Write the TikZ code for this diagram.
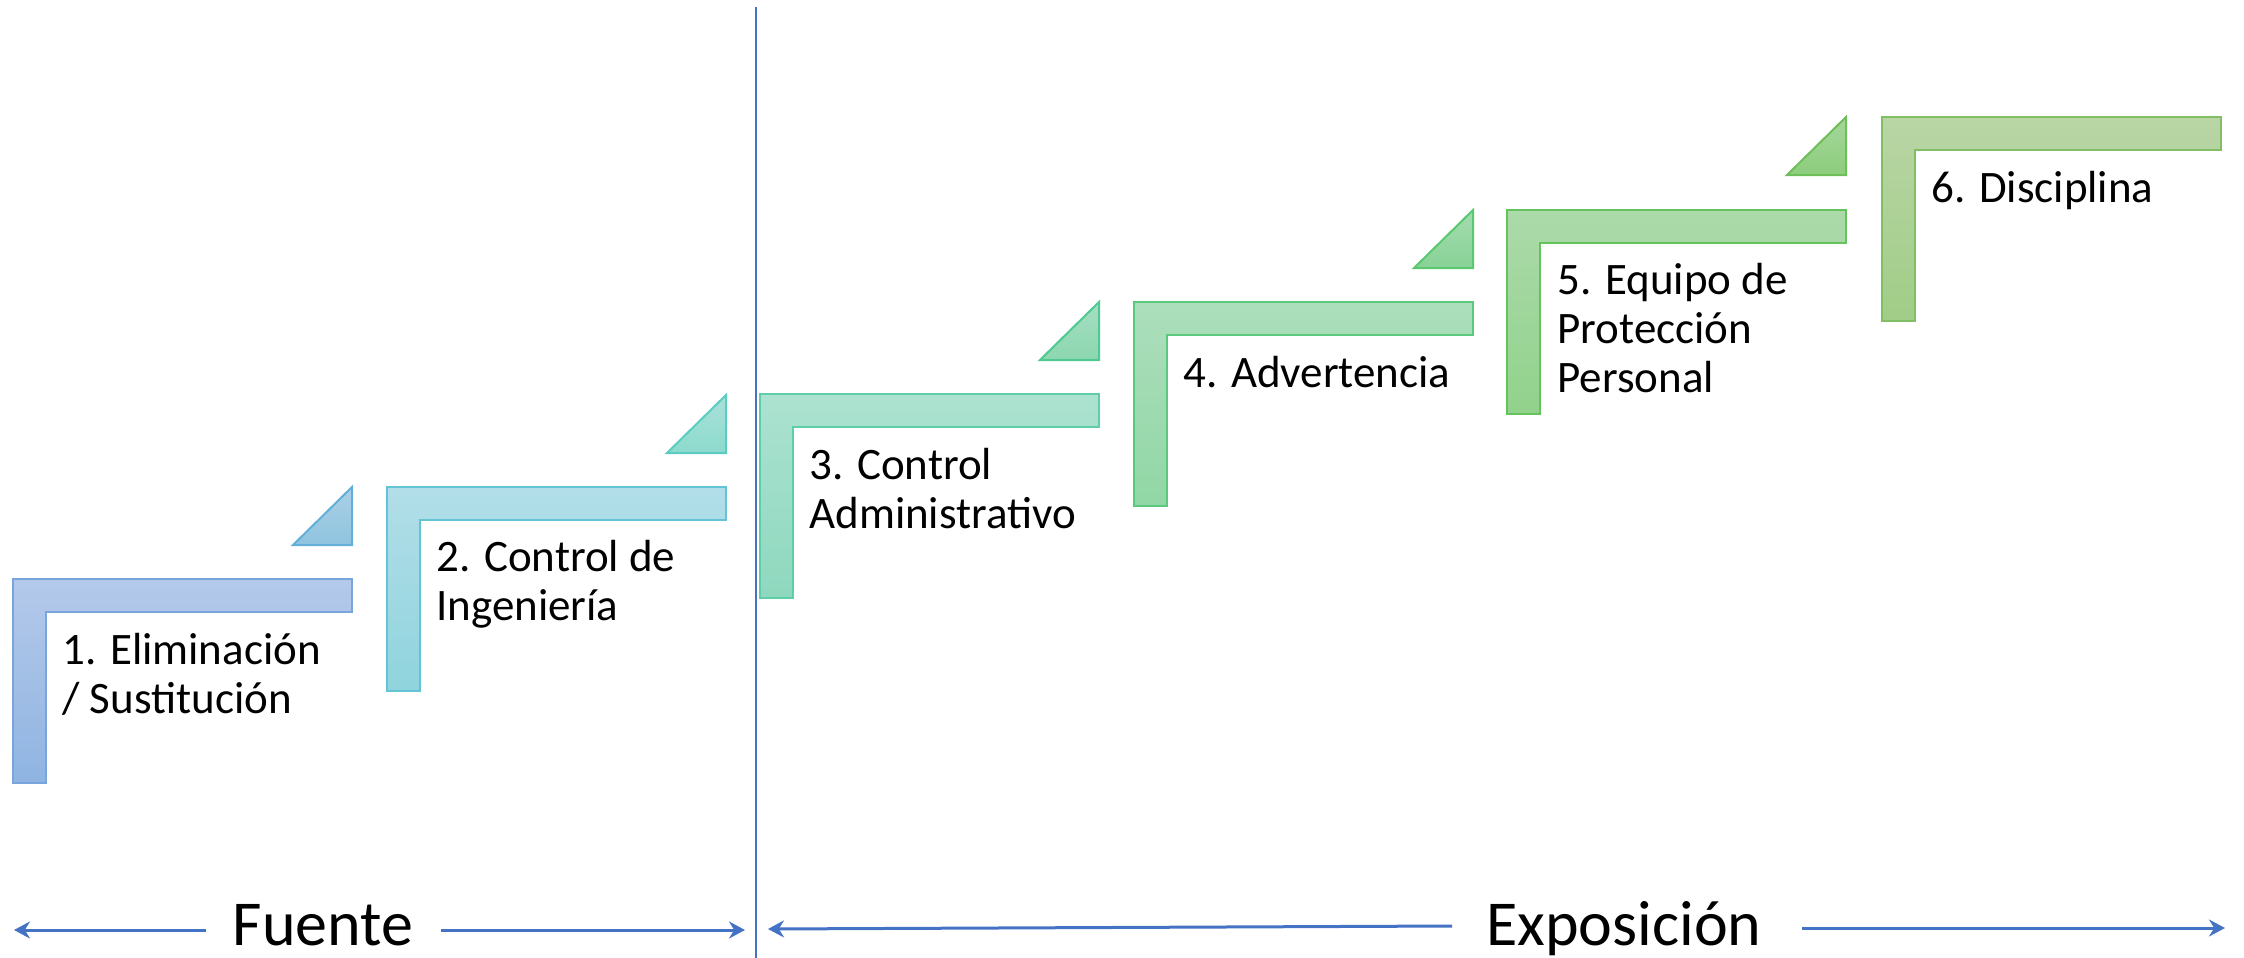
\documentclass[tikz,border=0pt]{standalone}
\usepackage{fontspec}
\setmainfont{Carlito}
\usetikzlibrary{arrows.meta}

\begin{document}
\begin{tikzpicture}[x=0.5pt, y=-0.5pt,
  escalon/.style={line width=1pt},
  etiqueta/.style={anchor=base west, align=left, inner sep=0pt, font=\fontsize{22.5}{24.5}\selectfont},
  eje/.style={font=\fontsize{32}{38}\selectfont, inner sep=0pt, anchor=base},
  flecha/.style={draw={rgb,255:red,68;green,114;blue,196}, line width=1.5pt, -{Stealth[length=8pt, width=8.5pt]}}]
\useasboundingbox (0, 0) rectangle (2244, 958);

% escalones
\draw [escalon, draw={rgb,255:red,120;green,165;blue,220}, top color={rgb,255:red,180;green,201;blue,234}, bottom color={rgb,255:red,143;green,180;blue,226}]
  (13, 579) -- ++(339, 0) -- ++(0, 33) -- ++(-306, 0) -- ++(0, 171) -- ++(-33, 0) -- cycle;
\draw [escalon, draw={rgb,255:red,100;green,195;blue,212}, top color={rgb,255:red,178;green,222;blue,232}, bottom color={rgb,255:red,143;green,212;blue,222}]
  (387, 487) -- ++(339, 0) -- ++(0, 33) -- ++(-306, 0) -- ++(0, 171) -- ++(-33, 0) -- cycle;
\draw [escalon, draw={rgb,255:red,95;green,205;blue,168}, top color={rgb,255:red,172;green,226;blue,208}, bottom color={rgb,255:red,142;green,216;blue,190}]
  (760, 394) -- ++(339, 0) -- ++(0, 33) -- ++(-306, 0) -- ++(0, 171) -- ++(-33, 0) -- cycle;
\draw [escalon, draw={rgb,255:red,90;green,200;blue,125}, top color={rgb,255:red,172;green,222;blue,188}, bottom color={rgb,255:red,145;green,215;blue,165}]
  (1134, 302) -- ++(339, 0) -- ++(0, 33) -- ++(-306, 0) -- ++(0, 171) -- ++(-33, 0) -- cycle;
\draw [escalon, draw={rgb,255:red,100;green,195;blue,92}, top color={rgb,255:red,172;green,218;blue,170}, bottom color={rgb,255:red,145;green,210;blue,140}]
  (1507, 210) -- ++(339, 0) -- ++(0, 33) -- ++(-306, 0) -- ++(0, 171) -- ++(-33, 0) -- cycle;
\draw [escalon, draw={rgb,255:red,130;green,190;blue,100}, top color={rgb,255:red,185;green,213;blue,165}, bottom color={rgb,255:red,160;green,205;blue,135}]
  (1882, 117) -- ++(339, 0) -- ++(0, 33) -- ++(-306, 0) -- ++(0, 171) -- ++(-33, 0) -- cycle;

% triangulos
\draw [escalon, draw={rgb,255:red,100;green,175;blue,215}, top color={rgb,255:red,170;green,208;blue,230}, bottom color={rgb,255:red,143;green,196;blue,222}]
  (293, 545) -- ++(59, 0) -- ++(0, -58) -- cycle;
\draw [escalon, draw={rgb,255:red,90;green,205;blue,192}, top color={rgb,255:red,170;green,225;blue,218}, bottom color={rgb,255:red,140;green,218;blue,205}]
  (667, 453) -- ++(59, 0) -- ++(0, -58) -- cycle;
\draw [escalon, draw={rgb,255:red,80;green,200;blue,145}, top color={rgb,255:red,165;green,222;blue,195}, bottom color={rgb,255:red,140;green,215;blue,175}]
  (1040, 360) -- ++(59, 0) -- ++(0, -58) -- cycle;
\draw [escalon, draw={rgb,255:red,90;green,200;blue,112}, top color={rgb,255:red,165;green,220;blue,175}, bottom color={rgb,255:red,135;green,210;blue,150}]
  (1414, 268) -- ++(59, 0) -- ++(0, -58) -- cycle;
\draw [escalon, draw={rgb,255:red,110;green,190;blue,90}, top color={rgb,255:red,165;green,215;blue,155}, bottom color={rgb,255:red,140;green,205;blue,125}]
  (1787, 175) -- ++(59, 0) -- ++(0, -58) -- cycle;

% textos (base = ultima linea)
\node [etiqueta] (e1) at (62, 713) {1. Eliminación\\/ Sustitución};
\node [etiqueta] (e2) at (436, 620) {2. Control de\\Ingeniería};
\node [etiqueta] (e3) at (809, 528) {3. Control\\Administrativo};
\node [etiqueta] (e4) at (1183, 387) {4. Advertencia};
\node [etiqueta] (e5) at (1557, 392) {5. Equipo de\\Protección\\Personal};
\node [etiqueta] (e6) at (1931, 202) {6. Disciplina};

% separador
\coordinate (sepA) at (756, 7);
\coordinate (sepB) at (756, 958);
\draw [draw={rgb,255:red,68;green,114;blue,196}, line width=0.75pt] (sepA) -- (sepB);

% fuente / exposicion
\node [eje] (fuente) at (323, 945) {Fuente};
\node [eje] (expo) at (1624, 945) {Exposición};

\coordinate (f1) at (206, 930);
\coordinate (f2) at (14, 930);
\coordinate (f3) at (441, 930);
\coordinate (f4) at (745, 930);
\coordinate (x1) at (1452, 926);
\coordinate (x2) at (768, 929);
\coordinate (x3) at (1802, 928);
\coordinate (x4) at (2225, 928);

\draw [flecha] (f1) -- (f2);
\draw [flecha] (f3) -- (f4);
\draw [flecha] (x1) -- (x2);
\draw [flecha] (x3) -- (x4);
\end{tikzpicture}
\end{document}
